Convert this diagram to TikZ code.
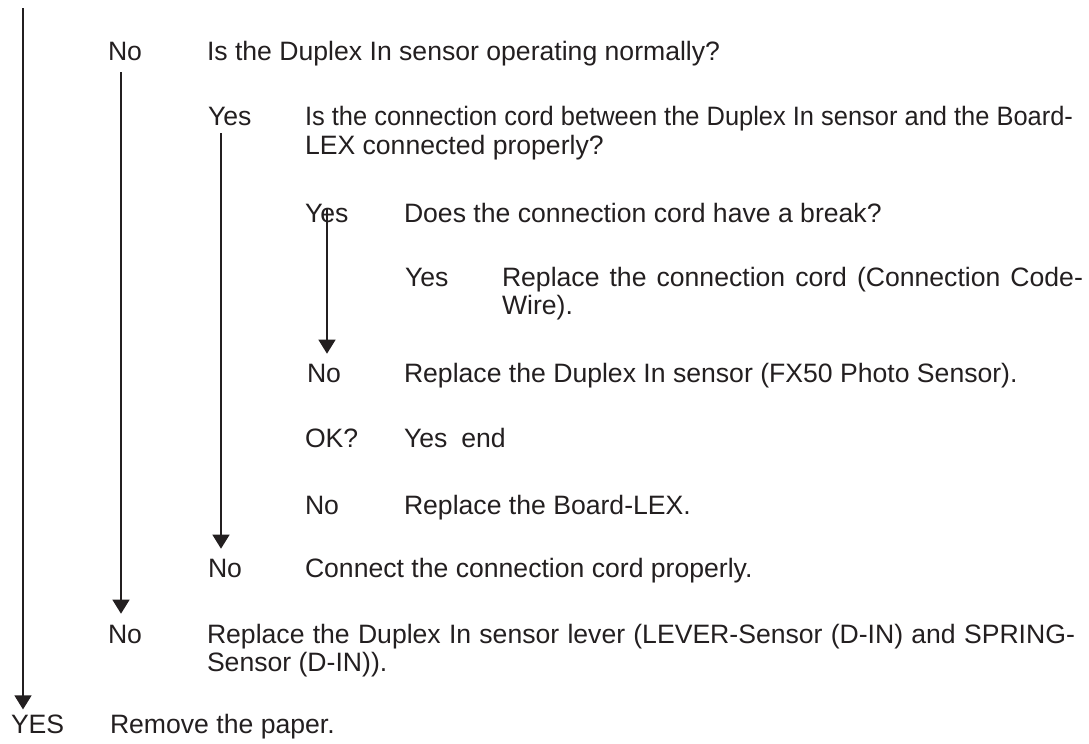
\documentclass[tikz,border=0pt]{standalone}
\usepackage{fontspec}
\usepackage{graphicx}
\setmainfont{Liberation Sans}
\usetikzlibrary{arrows.meta,calc}
\definecolor{ink}{HTML}{231F20}
\begin{document}
\begin{tikzpicture}[x=0.5pt,y=-0.5pt,
  txt/.style={anchor=base west,inner sep=0pt,outer sep=0pt,text=ink,
    font=\fontsize{13.3}{14}\selectfont},
  flow/.style={draw=ink,line width=0.65pt,-{Triangle[width=8.5pt,length=7pt]}}]
\useasboundingbox (0,0) rectangle (1089,744);

% row 1
\node[txt] (n1) at (108,61) {No};
\node[txt] (q1) at (207,61) {Is the Duplex In sensor operating normally?};
% row 2
\node[txt] (y2) at (208,126) {Yes};
\node[txt] (q2) at (305,126) {\begin{tabular}[t]{@{}l@{}}\resizebox{384pt}{\height}{Is the connection cord between the Duplex In sensor and the Board-}\\LEX connected properly?\end{tabular}};
% row 3
\node[txt] (y3) at (305,222) {Yes};
\node[txt] (q3) at (404,222) {Does the connection cord have a break?};
% row 4
\node[txt] (y4) at (405,286) {Yes};
\node[txt] (a4) at (502,286) {\begin{tabular}[t]{@{}l@{}}\makebox[290.5pt][s]{Replace the connection cord (Connection Code-}\\Wire).\end{tabular}};
% row 5
\node[txt] (n5) at (307,382) {No};
\node[txt] (a5) at (404,382) {Replace the Duplex In sensor (FX50 Photo Sensor).};
% row 6
\node[txt] (ok6) at (305,447) {OK?};
\node[txt] (a6) at (404,447) {Yes\hspace{7pt}end};
% row 7
\node[txt] (n7) at (305,514) {No};
\node[txt] (a7) at (404,514) {Replace the Board-LEX.};
% row 8
\node[txt] (n8) at (208,577) {No};
\node[txt] (a8) at (305,577) {Connect the connection cord properly.};
% row 9
\node[txt] (n9) at (108,643) {No};
\node[txt] (a9) at (207,643) {\begin{tabular}[t]{@{}l@{}}\makebox[434pt][s]{Replace the Duplex In sensor lever (LEVER-Sensor (D-IN) and SPRING-}\\Sensor (D-IN)).\end{tabular}};
% row 10
\node[txt] (yes10) at (11,733) {YES};
\node[txt] (a10) at (110,733) {Remove the paper.};

% connectors
\coordinate (topA) at (23,8);
\draw[flow] (topA) -- ($(yes10.north west)+(12,-5)$);
\draw[flow] ($(n1.south west)+(13,11)$) -- ($(n9.north west)+(13,-11)$);
\draw[flow] ($(y2.south west)+(13,7)$) -- ($(n8.north west)+(13,-10)$);
\draw[flow] ($(y3.south west)+(22,-14)$) -- ($(n5.north west)+(20,-10)$);
\end{tikzpicture}
\end{document}
